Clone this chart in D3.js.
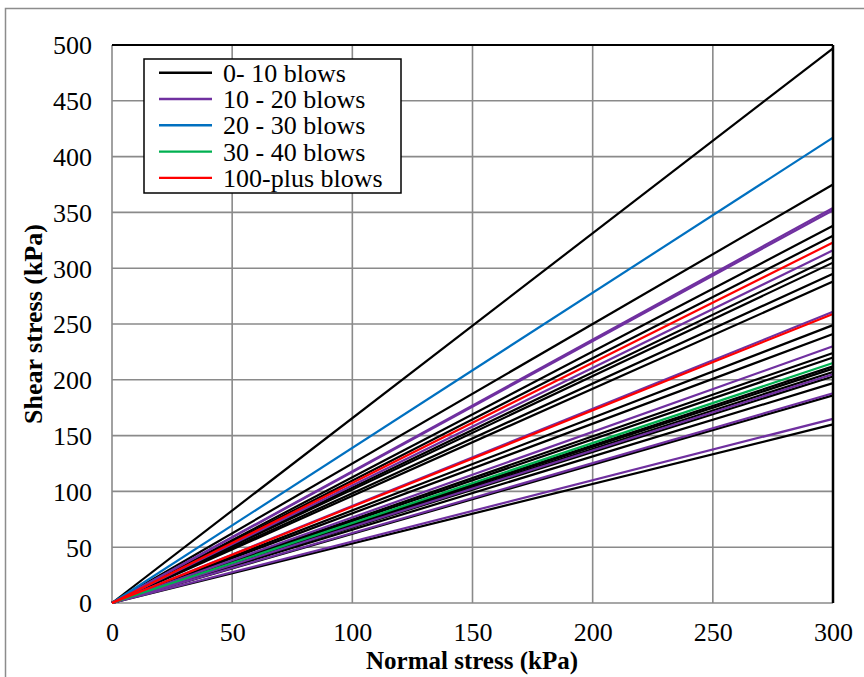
<!DOCTYPE html>
<html><head><meta charset="utf-8">
<script src="https://cdn.jsdelivr.net/npm/d3@7"></script>
<style>body{margin:0;background:#fff}svg{display:block}</style>
</head><body>
<script>
// Normal stress range (kPa)
const normalStress = [0, 300];
// Shear stress at 300 kPa normal stress for each failure envelope (lines pass through origin)
const blows0to10 = [497, 375, 338, 329, 310, 305, 295, 288, 249, 241, 224, 220, 212, 210, 207, 203, 197, 186, 160];
const blows10to20 = [354, 352, 316, 261, 230, 205, 188, 165];
const blows20to30 = [417];
const blows30to40 = [215];
const blows100plus = [323, 259];
const seriesNames = ["0- 10 blows", "10 - 20 blows", "20 - 30 blows", "30 - 40 blows", "100-plus blows"];
const seriesColors = ["#000000", "#7030A0", "#0070C0", "#00B050", "#FF0000"];
const xTicks = [0, 50, 100, 150, 200, 250, 300];
const yTicks = [0, 50, 100, 150, 200, 250, 300, 350, 400, 450, 500];

const FONT = "Liberation Serif";
const W = 864, H = 677;
const svg = d3.select("body").append("svg").attr("width", W).attr("height", H)
  .attr("font-family", FONT);
svg.append("rect").attr("x", 5.5).attr("y", 8.5).attr("width", W + 10).attr("height", H + 10)
  .attr("fill", "none").attr("stroke", "#8c8c8c").attr("stroke-width", 1.5);

const x = d3.scaleLinear().domain([0, 300]).range([112, 833]);
const y = d3.scaleLinear().domain([0, 500]).range([603, 45]);

// gridlines
svg.append("g").selectAll("line").data(xTicks).join("line")
  .attr("x1", d => x(d)).attr("x2", d => x(d)).attr("y1", y(0)).attr("y2", y(500))
  .attr("stroke", "#8a8a8a").attr("stroke-width", 1.6);
svg.append("g").selectAll("line").data(yTicks).join("line")
  .attr("x1", x(0)).attr("x2", x(300)).attr("y1", d => y(d)).attr("y2", d => y(d))
  .attr("stroke", "#8a8a8a").attr("stroke-width", 1.6);

// axes labels
const xAxis = d3.axisBottom(x).tickValues(xTicks).tickSize(0).tickPadding(0);
const gx = svg.append("g").attr("transform", `translate(0,${y(0)})`).call(xAxis);
gx.select(".domain").remove();
gx.attr("font-family", FONT).attr("font-size", 26);
gx.selectAll("text").attr("fill", "#000").attr("dy", 0).attr("y", 38);
const yAxis = d3.axisLeft(y).tickValues(yTicks).tickSize(0).tickPadding(0);
const gy = svg.append("g").attr("transform", `translate(${x(0)},0)`).call(yAxis);
gy.select(".domain").remove();
gy.attr("font-family", FONT).attr("font-size", 26);
gy.selectAll("text").attr("fill", "#000").attr("x", -20).attr("dy", "0.34em");

// lines
const line = d3.line().x(d => x(d[0])).y(d => y(d[1]));
const groups = [blows0to10, blows10to20, blows20to30, blows30to40, blows100plus];
groups.forEach((vals, i) => {
  svg.append("g").selectAll("path").data(vals).join("path")
    .attr("d", v => line([[normalStress[0], 0], [normalStress[1], v]]))
    .attr("fill", "none").attr("stroke", seriesColors[i]).attr("stroke-width", 2.2);
});

// plot border
svg.append("line").attr("x1", x(0)).attr("x2", x(300)).attr("y1", y(500)).attr("y2", y(500)).attr("stroke", "#000").attr("stroke-width", 2);
svg.append("line").attr("x1", x(300)).attr("x2", x(300)).attr("y1", y(500)).attr("y2", y(0)).attr("stroke", "#000").attr("stroke-width", 2.5);

// titles
svg.append("text").attr("x", 472).attr("y", 669).attr("text-anchor", "middle")
  .attr("font-size", 25).attr("font-weight", "bold").text("Normal stress (kPa)");
svg.append("text").attr("transform", `translate(42,${y(250)}) rotate(-90)`).attr("text-anchor", "middle")
  .attr("font-size", 26).attr("font-weight", "bold").text("Shear stress (kPa)");

// legend
const lg = svg.append("g");
lg.append("rect").attr("x", 144).attr("y", 59).attr("width", 257).attr("height", 134)
  .attr("fill", "#fff").attr("stroke", "#000").attr("stroke-width", 1.5);
seriesNames.forEach((n, i) => {
  const yy = 72.7 + i * 26.3;
  lg.append("line").attr("x1", 159).attr("x2", 212).attr("y1", yy).attr("y2", yy)
    .attr("stroke", seriesColors[i]).attr("stroke-width", 2.4);
  lg.append("text").attr("x", 223).attr("y", yy + 9).attr("font-size", 26).text(n);
});
</script>
</body></html>
